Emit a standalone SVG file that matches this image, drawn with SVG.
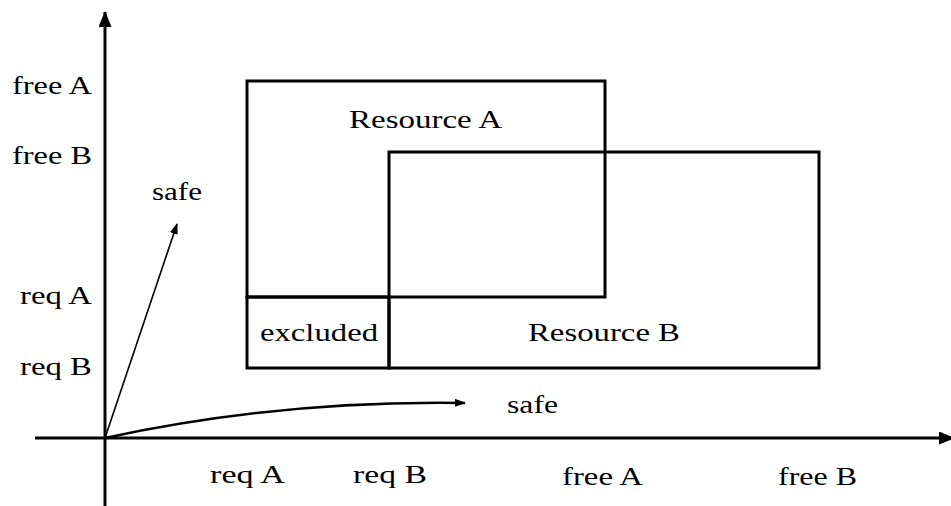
<svg xmlns="http://www.w3.org/2000/svg" width="951" height="506" viewBox="0 0 951 506">
  <style>
    text { font-family: "Liberation Serif", "Times New Roman", serif; font-size: 26px; fill: #000; }
    .axis { stroke: #000; stroke-width: 3; fill: none; }
    .box { stroke: #000; stroke-width: 3; fill: none; }
    .path { stroke: #000; fill: none; }
  </style>
  <defs>
    <marker id="axisHead" viewBox="0 0 16 13" refX="15" refY="6.5" markerWidth="16" markerHeight="13" markerUnits="userSpaceOnUse" orient="auto">
      <path d="M0,0 L16,6.5 L0,13 Z" fill="#000"/>
    </marker>
    <marker id="pathHead" viewBox="0 0 11 8" refX="10" refY="4" markerWidth="11" markerHeight="8" markerUnits="userSpaceOnUse" orient="auto">
      <path d="M0,0 L11,4 L0,8 Z" fill="#000"/>
    </marker>
  </defs>

  <!-- axes -->
  <g id="axes">
    <line class="axis" x1="105" y1="506" x2="105" y2="12" marker-end="url(#axisHead)"/>
    <line class="axis" x1="35" y1="438" x2="954" y2="438" marker-end="url(#axisHead)"/>
  </g>

  <!-- resource regions -->
  <g id="resourceA">
    <rect class="box" x="247" y="81" width="358" height="216"/>
    <text x="425.5" y="128" text-anchor="middle" textLength="153" lengthAdjust="spacingAndGlyphs">Resource A</text>
  </g>
  <g id="resourceB">
    <rect class="box" x="389" y="152" width="430" height="216"/>
    <text x="604" y="341" text-anchor="middle" textLength="152" lengthAdjust="spacingAndGlyphs">Resource B</text>
  </g>
  <g id="excluded">
    <rect class="box" x="247" y="297" width="142" height="71"/>
    <text x="319" y="341" text-anchor="middle" textLength="118" lengthAdjust="spacingAndGlyphs">excluded</text>
  </g>

  <!-- vertical axis labels -->
  <g id="yLabels">
    <text x="12" y="94" textLength="80" lengthAdjust="spacingAndGlyphs">free A</text>
    <text x="12" y="164" textLength="80" lengthAdjust="spacingAndGlyphs">free B</text>
    <text x="20" y="304" textLength="72" lengthAdjust="spacingAndGlyphs">req A</text>
    <text x="20" y="375" textLength="72" lengthAdjust="spacingAndGlyphs">req B</text>
  </g>

  <!-- horizontal axis labels -->
  <g id="xLabels">
    <text x="210" y="483" textLength="75" lengthAdjust="spacingAndGlyphs">req A</text>
    <text x="353" y="483" textLength="74" lengthAdjust="spacingAndGlyphs">req B</text>
    <text x="562" y="485" textLength="81" lengthAdjust="spacingAndGlyphs">free A</text>
    <text x="778" y="485" textLength="79" lengthAdjust="spacingAndGlyphs">free B</text>
  </g>

  <!-- safe trajectories -->
  <g id="connectors">
    <line class="path" x1="105" y1="438" x2="177" y2="224" stroke-width="1.6" marker-end="url(#pathHead)"/>
    <path class="path" d="M105,438 Q280,400 465,403" stroke-width="2.4" marker-end="url(#pathHead)"/>
  </g>
  <g id="safeLabels">
    <text x="152" y="200" textLength="50" lengthAdjust="spacingAndGlyphs">safe</text>
    <text x="507" y="413" textLength="51" lengthAdjust="spacingAndGlyphs">safe</text>
  </g>
</svg>
